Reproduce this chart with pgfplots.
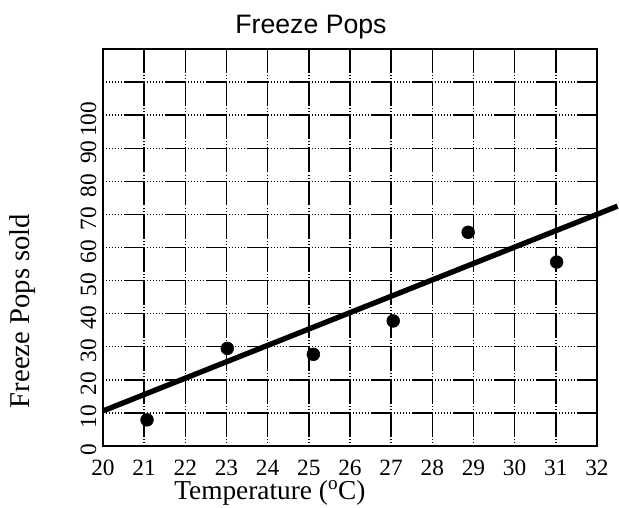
\documentclass[border=0pt]{standalone}
\usepackage{fontspec}
\setmainfont{Liberation Serif}
\newfontfamily\arialfont{Liberation Sans}
\usepackage{pgfplots}
\pgfplotsset{compat=1.18}
\begin{document}
\begin{tikzpicture}
\useasboundingbox (-77.25pt,-46.5pt) rectangle (387pt,334.5pt);
\begin{axis}[
  at={(0,0)}, anchor=south west,
  scale only axis, width=370.5pt, height=297.75pt,
  xmin=20, xmax=32, ymin=0, ymax=120,
  xtick={20,21,...,32},
  ytick={0,10,...,110},
  yticklabels={0,10,20,30,40,50,60,70,80,90,100,{}},
  major tick length=0pt,
  grid=major,
  major x grid style={black, line width=1.1pt, dash pattern=on 0.6pt off 1.65pt on 0.6pt off 1.65pt on 0.6pt off 1.65pt on 18.06pt off 0pt},
  major y grid style={black, line width=1.1pt, dash pattern=on 0.6pt off 1.65pt on 0.6pt off 1.65pt on 0.6pt off 1.65pt on 0.6pt off 1.65pt on 0.6pt off 1.65pt on 0.6pt off 1.65pt on 0.6pt off 1.65pt on 15.125pt off 0pt},
  axis line style={line width=1.4pt},
  clip=false,
  /pgf/number format/assume math mode=true,
  tick label style={font=\fontsize{17.5}{20}\selectfont},
  xticklabel style={anchor=north, yshift=-8.5pt, inner sep=2pt},
  yticklabel style={xshift=-1.5pt, yshift=-3pt, rotate=90, anchor=south},
  title={\arialfont Freeze Pops},
  title style={at={(rel axis cs:0.421,1.04)}, anchor=base, yshift=-6pt, font=\fontsize{20}{22}\selectfont},
  xlabel={Temperature (\textsuperscript{o}C)},
  xlabel style={at={(rel axis cs:0.338,-0.136)}, anchor=base, inner sep=0pt, font=\fontsize{20.5}{23}\selectfont},
  ylabel={Freeze Pops sold},
  ylabel style={at={(rel axis cs:-0.148,0.340)}, anchor=base, font=\fontsize{21.5}{24}\selectfont},
]
\addplot[black, line width=4pt, no marks] coordinates {(20,10.6) (32.5,72.5)};
\addplot[only marks, mark=*, mark size=4.8pt, black] coordinates {
  (21.07,7.9) (23.02,29.5) (25.11,27.7) (27.05,37.8) (28.87,64.6) (31.02,55.6)
};
\end{axis}
\end{tikzpicture}
\end{document}
